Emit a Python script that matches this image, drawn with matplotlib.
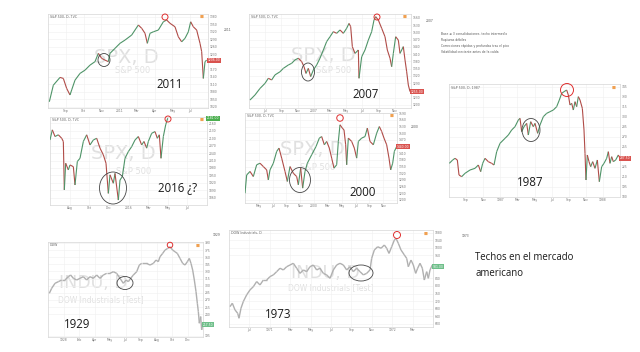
import matplotlib
matplotlib.use("Agg")
import matplotlib.pyplot as plt
import numpy as np
from matplotlib.collections import LineCollection
from matplotlib.patches import Ellipse

W, H = 640, 352

# price paths: session position + rough close
d_2011 = [148, 160, 180, 190, 200, 210, 215, 225, 240, 255, 270, 285, 295, 305, 315, 325, 330,
          345, 360, 375, 395, 415, 425, 435, 442, 450, 460, 475, 490, 500, 510, 525, 535, 545,
          555, 565, 572, 580, 590, 600, 605, 610, 615, 620]
spx_2011 = [1040, 1106, 1137, 1133, 1093, 1067, 1087, 1126, 1153, 1166, 1186, 1200, 1233,
            1213, 1206, 1200, 1233, 1253, 1273, 1286, 1306, 1346, 1333, 1313, 1273, 1313,
            1319, 1326, 1359, 1366, 1353, 1339, 1299, 1279, 1293, 1319, 1359, 1339, 1326,
            1273, 1240, 1133, 1200, 1206]

d_2007 = [60, 75, 90, 105, 115, 125, 135, 150, 160, 175, 185, 195, 205, 215, 222, 228, 235,
          242, 250, 260, 270, 280, 290, 300, 310, 320, 330, 340, 350, 357, 362, 367, 375, 385,
          387, 395, 405, 415, 425, 432, 437, 445, 455, 465, 472, 480, 485, 490, 497, 505, 510,
          520, 525, 530, 535, 540]
spx_2007 = [1220, 1241, 1268, 1289, 1310, 1303, 1324, 1337, 1351, 1365, 1372, 1386, 1393,
            1379, 1358, 1330, 1351, 1317, 1344, 1365, 1393, 1427, 1462, 1482, 1503, 1496,
            1510, 1496, 1517, 1537, 1524, 1441, 1413, 1427, 1310, 1399, 1427, 1468, 1503,
            1551, 1565, 1551, 1517, 1482, 1427, 1393, 1358, 1413, 1482, 1468, 1413, 1441,
            1386, 1337, 1282, 1255]

d_2016 = [150, 157, 165, 175, 185, 190, 193, 197, 205, 210, 220, 225, 232, 240, 250, 260, 270,
          280, 290, 300, 310, 318, 325, 330, 340, 345, 355, 360, 367, 375, 385, 395, 405, 415,
          425, 432, 440, 445, 455, 465, 472, 478, 483, 490, 497, 503]
spx_2016 = [2093, 2134, 2107, 2114, 2100, 2087, 1891, 1999, 1972, 1992, 1985, 1911, 2006,
            2019, 2087, 2114, 2073, 2093, 2100, 2060, 2033, 1999, 1877, 1952, 1918, 1958,
            1850, 1931, 1945, 2019, 2046, 2066, 2093, 2107, 2073, 2087, 2060, 2087, 2120,
            2127, 2100, 2114, 2019, 2107, 2154, 2181]

d_2000 = [45, 50, 60, 70, 80, 90, 100, 110, 115, 120, 130, 140, 147, 155, 165, 172, 180, 190,
          200, 205, 212, 218, 225, 232, 245, 258, 268, 275, 283, 290, 298, 305, 312, 320, 325,
          330, 337, 342, 347, 350, 355, 365, 373, 380, 385, 395, 405, 412, 420, 430, 440, 448,
          455, 462, 470, 477, 482, 488, 493, 500]
spx_2000 = [1230, 1312, 1328, 1305, 1358, 1365, 1350, 1335, 1290, 1335, 1365, 1418, 1433,
            1388, 1328, 1283, 1350, 1320, 1305, 1268, 1343, 1253, 1328, 1365, 1403, 1440,
            1478, 1485, 1448, 1463, 1433, 1388, 1343, 1358, 1463, 1538, 1523, 1515, 1448,
            1358, 1478, 1463, 1433, 1388, 1463, 1478, 1485, 1523, 1463, 1448, 1500, 1530,
            1508, 1478, 1448, 1388, 1335, 1365, 1418, 1440]

d_1987 = [28, 38, 45, 52, 57, 65, 75, 90, 105, 115, 122, 128, 135, 145, 155, 162, 170, 180,
          195, 205, 215, 225, 235, 240, 245, 252, 260, 265, 272, 280, 285, 293, 300, 310, 320,
          330, 340, 350, 358, 365, 372, 380, 385, 390, 395, 400, 405, 410, 415, 420, 427, 432,
          435, 438, 442, 447, 452, 458, 465, 472, 478, 485, 492, 500, 505, 510, 515, 520, 527,
          535, 540]
spx_1987 = [230, 235, 237.5, 235, 212.5, 210, 215, 220, 222.5, 227.5, 217.5, 230, 237.5,
            232.5, 230, 227.5, 247.5, 260, 267.5, 272.5, 280, 285, 295, 297.5, 277.5, 285,
            290, 272.5, 292.5, 285, 290, 275, 287.5, 300, 305, 307.5, 310, 315, 325, 335,
            337.5, 340, 332.5, 317.5, 320, 310, 322.5, 315, 330, 325, 312.5, 280, 245, 205,
            242.5, 232.5, 225, 232.5, 222.5, 235, 202.5, 225, 230, 237.5, 247.5, 230, 240,
            232.5, 235, 242.5, 237.5]

d_1929 = [148, 155, 165, 175, 185, 195, 205, 212, 220, 230, 240, 250, 260, 270, 280, 290, 300,
          310, 320, 330, 340, 350, 360, 370, 378, 385, 392, 400, 410, 418, 425, 440, 450, 460,
          468, 475, 480, 488, 495, 503, 510, 518, 525, 532, 540, 548, 555, 562, 568, 573, 578,
          583, 588, 592, 595, 598, 602, 605, 608]
dow_1929 = [284, 294.5, 305, 308.5, 312, 312, 319, 322.5, 315.5, 312, 315.5, 319, 312, 319,
            315.5, 322.5, 315.5, 322.5, 326, 326, 329.5, 326, 315.5, 305, 312, 308.5, 315.5,
            322.5, 329.5, 343.5, 347, 347, 343.5, 347, 354, 350.5, 361, 368, 375, 378.5, 382,
            375, 371.5, 368, 357.5, 347, 343.5, 350.5, 357.5, 347, 333, 312, 287.5, 263,
            245.5, 221, 235, 207, 217.5]

d_1973 = [15, 22, 30, 38, 42, 48, 55, 65, 75, 85, 95, 105, 115, 125, 135, 145, 155, 165, 175,
          185, 195, 205, 215, 225, 235, 245, 255, 265, 275, 285, 295, 305, 315, 325, 335, 345,
          355, 365, 375, 385, 395, 405, 415, 425, 435, 440, 448, 458, 468, 478, 485, 492, 500,
          508, 513, 520, 528, 538, 545, 550, 558, 565, 572, 578, 585, 592, 598, 605, 610, 615,
          622, 625]
dow_1973 = [691, 709, 674, 656, 630, 683, 718, 753, 779, 796, 823, 805, 831, 831, 849, 858,
            875, 893, 884, 901, 910, 919, 893, 866, 884, 875, 901, 910, 884, 893, 866, 858,
            840, 884, 910, 919, 910, 884, 901, 875, 893, 875, 858, 866, 884, 945, 989, 1006,
            998, 1015, 998, 971, 1006, 1041, 1050, 1024, 989, 963, 945, 901, 936, 910, 866,
            893, 919, 893, 831, 875, 840, 884, 910, 901]

# bottom date labels
lab_2011 = ["Sep", "Oct", "Nov", "2011", "Mar", "Apr", "May", "Jul"]
lab_2007 = ["Jul", "Sep", "Nov", "2007", "Mar", "May", "Jul", "Sep", "Nov"]
lab_2016 = ["Aug", "Oct", "Dec", "2016", "Mar", "May", "Jul"]
lab_2000 = ["May", "Jul", "Sep", "Nov", "2000", "Mar", "May", "Jul", "Sep", "Nov"]
lab_1987 = ["Sep", "Nov", "1987", "Mar", "May", "Jul", "Sep", "Nov", "1988"]
lab_1929 = ["1928", "Feb", "Apr", "May", "Jul", "Sep", "Aug", "Oct", "Dec"]
lab_1973 = ["Jul", "1971", "Mar", "May", "Jul", "Sep", "Nov", "1972", "Mar"]

UP, DOWN, GREY = "#4f9468", "#b04c48", "#b0b0b0"
WM = "#e0e0e0"


def fig_rect(x0, y0, x1, y1):
    return [x0 / W, 1 - y1 / H, (x1 - x0) / W, (y1 - y0) / H]


def ring(fig, cx, cy, w, h, color, lw=0.6):
    fig.patches.append(Ellipse((cx / W, 1 - cy / H), w / W, h / H,
                               transform=fig.transFigure, fill=False, ec=color, lw=lw))


def panel(fig, box, days, prices, xlim, ylim, labels, header, grey=False, tag_color="#d9534f"):
    ax = fig.add_axes(fig_rect(*box))
    x = np.asarray(days, dtype=float)
    p = np.asarray(prices, dtype=float)
    segs = np.stack([np.column_stack([x[:-1], p[:-1]]), np.column_stack([x[1:], p[1:]])], axis=1)
    if grey:
        lc = LineCollection(segs, colors=GREY, linewidths=1.0, zorder=3)
    else:
        cols = [UP if b >= a else DOWN for a, b in zip(p[:-1], p[1:])]
        lc = LineCollection(segs, colors=cols, linewidths=0.8, zorder=3)
    ax.add_collection(lc)
    ax.set_xlim(*xlim)
    ax.set_ylim(*ylim)
    ax.yaxis.tick_right()
    ticks = plt.MaxNLocator(14).tick_values(*ylim)
    span = ylim[1] - ylim[0]
    ticks = [t for t in ticks if ylim[0] < t < ylim[1] and abs(t - p[-1]) > span * 0.05]
    ax.set_yticks(ticks)
    ax.tick_params(labelsize=2.2, colors="#777777", length=0, pad=1)
    ax.set_xticks(np.linspace(xlim[0], xlim[1], len(labels) + 2)[1:-1])
    ax.set_xticklabels(labels)
    ax.grid(color="#efefef", lw=0.4)
    for s in ax.spines.values():
        s.set_color("#d6d6d6")
        s.set_linewidth(0.5)
    ax.text(0.01, 0.985, header, transform=ax.transAxes, fontsize=2.3, color="#666666",
            va="top", ha="left")
    ax.text(0.975, 0.985, "■", transform=ax.transAxes, fontsize=3, color="#f0a050",
            va="top", ha="right")
    ax.text(1.0, p[-1], f"{p[-1]:.2f}", transform=ax.get_yaxis_transform(), fontsize=2.2,
            color="white", va="center", ha="left",
            bbox=dict(boxstyle="square,pad=0.2", fc=tag_color, ec="none"))
    return ax


def watermark(ax, big, small, pos_big, pos_small, size_big, size_small):
    ax.text(*pos_big, big, transform=ax.transAxes, fontsize=size_big, color=WM,
            ha="center", va="center", zorder=0)
    ax.text(*pos_small, small, transform=ax.transAxes, fontsize=size_small, color=WM,
            ha="center", va="center", zorder=0)


fig = plt.figure(figsize=(6.4, 3.52), dpi=100)
fig.patch.set_facecolor("white")

a = panel(fig, (48, 14, 208, 108), d_2011, spx_2011, (144, 624), (1015, 1390), lab_2011,
          "S&P 500, D, TVC")
watermark(a, "SPX, D", "S&P 500", (0.49, 0.54), (0.53, 0.4), 14, 6)

a = panel(fig, (249, 14, 411, 108), d_2007, spx_2007, (57, 543), (1187, 1576), lab_2007,
          "S&P 500, D, TVC")
watermark(a, "SPX, D", "S&P 500", (0.46, 0.56), (0.52, 0.4), 14, 6)

a = panel(fig, (50, 117, 207, 205), d_2016, spx_2016, (150, 621), (1830, 2186), lab_2016,
          "S&P 500, D, TVC", tag_color="#4caf50")
watermark(a, "SPX, D", "S&P 500", (0.47, 0.59), (0.53, 0.375), 14, 6)

a = panel(fig, (245, 113, 397, 203), d_2000, spx_2000, (45, 501), (1186, 1591), lab_2000,
          "S&P 500, D, TVC")
watermark(a, "SPX, D", "S&P 500", (0.44, 0.59), (0.48, 0.4), 14, 6)

a = panel(fig, (449, 84, 620, 197), d_1987, spx_1987, (27, 540), (179.5, 349), lab_1987,
          "S&P 500, D, 1987")

a = panel(fig, (48, 242, 203, 337), d_1929, dow_1929, (144, 609), (192, 392), lab_1929,
          "DOW", grey=True, tag_color="#6fbf8a")
watermark(a, "INDU, D", "DOW Industrials [Test]", (0.29, 0.57), (0.34, 0.39), 12.5, 5.5)

a = panel(fig, (229, 230, 433, 327), d_1973, dow_1973, (12, 624), (584, 1094), lab_1973,
          "DOW Industrials, D", grey=True, tag_color="#6fbf8a")
watermark(a, "INDU, D", "DOW Industrials [Test]", (0.47, 0.56), (0.5, 0.41), 12.5, 5.5)

# year captions
yr = dict(fontsize=8.3, color="#1a1a1a", family="Open Sans", ha="center", va="center")
fig.text(170 / W, 1 - 84 / H, "2011", **yr)
fig.text(366 / W, 1 - 95 / H, "2007", **yr)
fig.text(178 / W, 1 - 188 / H, "2016 ¿?", **yr)
fig.text(363 / W, 1 - 192 / H, "2000", **yr)
fig.text(530 / W, 1 - 182 / H, "1987", **yr)
fig.text(77 / W, 1 - 324 / H, "1929", **yr)
fig.text(278 / W, 1 - 314 / H, "1973", **yr)

# rings: earlier base (black) and market top (red)
ring(fig, 104, 60, 12, 13, "#444444")
ring(fig, 165, 17, 6, 6, "#e03030", 0.7)
ring(fig, 308, 72, 13, 18, "#444444")
ring(fig, 377, 17, 6, 6, "#e03030", 0.7)
ring(fig, 113, 188, 27, 32, "#444444")
ring(fig, 168, 119, 6, 6, "#e03030", 0.7)
ring(fig, 300, 180, 21, 25, "#444444")
ring(fig, 340, 118, 6.5, 6.5, "#e03030", 0.7)
ring(fig, 531, 130, 18, 23, "#444444")
ring(fig, 567, 90, 13, 13, "#e03030", 0.7)
ring(fig, 125, 283, 16, 13, "#444444")
ring(fig, 170, 245, 5.5, 5.5, "#e03030", 0.7)
ring(fig, 361, 273, 24, 16, "#444444")
ring(fig, 397, 235, 7, 7, "#e03030", 0.7)

# side notes
notes = ["Base ≥ 3 consolidaciones, techo intermedio",
         "Rupturas débiles",
         "Correcciones rápidas y profundas tras el pico",
         "Volatilidad creciente antes de la caída"]
for i, t in enumerate(notes):
    fig.text(441 / W, 1 - (34 + 6 * i) / H, t, fontsize=2.2, color="#555555", va="center")
fig.text(224 / W, 1 - 31 / H, "2011", fontsize=2.2, color="#555555")
fig.text(426 / W, 1 - 22 / H, "2007", fontsize=2.2, color="#555555")
fig.text(411 / W, 1 - 128 / H, "2000", fontsize=2.2, color="#555555")
fig.text(213 / W, 1 - 236 / H, "1929", fontsize=2.2, color="#555555")
fig.text(462 / W, 1 - 237 / H, "1973", fontsize=2.2, color="#555555")

fig.text(475 / W, 1 - 265.5 / H, "Techos en el mercado\namericano", fontsize=6.9,
         color="#1a1a1a", family="Open Sans", va="center", linespacing=1.6)

fig.savefig("out.png", dpi=100)
